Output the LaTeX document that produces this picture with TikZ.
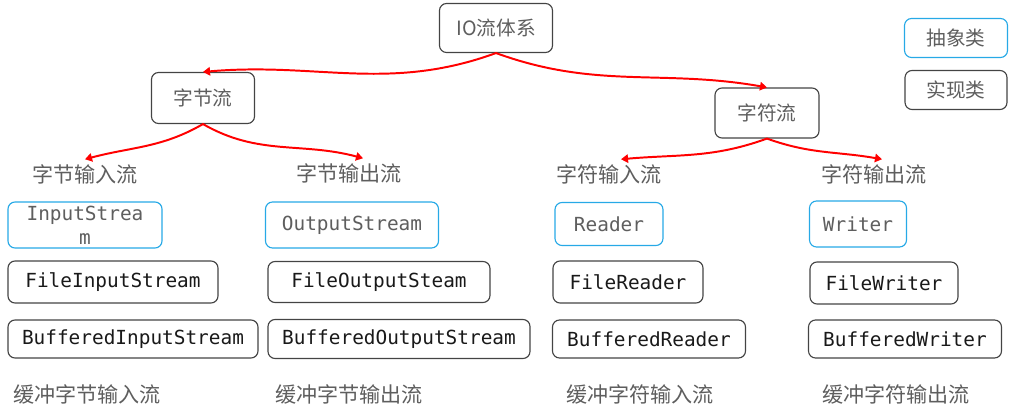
\documentclass[tikz,border=0pt]{standalone}
\usepackage{fontspec}
\setmainfont{Noto Sans CJK SC}
\setmonofont{DejaVu Sans Mono}
\usetikzlibrary{arrows.meta}

\definecolor{absblue}{HTML}{27A9E6}
\definecolor{boxgray}{HTML}{444444}
\definecolor{txtgray}{HTML}{5E5E5E}

\tikzset{
  box/.style={draw=boxgray, line width=0.8pt, rounded corners=5pt, align=center, inner sep=2pt},
  absbox/.style={box, draw=absblue},
  sz/.style 2 args={minimum width=#1*0.025cm, minimum height=#2*0.025cm},
  cn/.style={text=txtgray, font=\fontsize{14}{16}\selectfont},
  code/.style={font=\ttfamily\fontsize{13.8}{17}\selectfont},
  flow/.style={draw=red, line width=1.4pt, -{Triangle[length=5pt,width=6pt]}},
}

\begin{document}
\begin{tikzpicture}[x=0.025cm, y=-0.025cm, line cap=round, line join=round]
\useasboundingbox (0,0) rectangle (1016,411);

% top level
\node[box, sz={113}{49}, cn] (io) at (496,28) {IO流体系};
\node[box, sz={103}{51}, cn] (bytes) at (203,98) {字节流};
\node[box, sz={104}{50}, cn] (chars) at (767,113) {字符流};

% legend
\node[absbox, sz={103}{39}, cn] (legabs) at (956,38) {抽象类};
\node[box, sz={102}{39}, cn] (legimpl) at (956,90) {实现类};

% group titles
\node[cn, font=\fontsize{15}{17}\selectfont] (bin) at (85,174) {字节输入流};
\node[cn, font=\fontsize{15}{17}\selectfont] (bout) at (349,173) {字节输出流};
\node[cn, font=\fontsize{15}{17}\selectfont] (cin) at (609,174) {字符输入流};
\node[cn, font=\fontsize{15}{17}\selectfont] (cout) at (874,174) {字符输出流};

% abstract classes
\node[absbox, sz={154}{46}, code, text=txtgray, inner sep=0pt, text width=140*0.025cm] (instream) at (85,225) {InputStrea\\m};
\node[absbox, sz={173}{46}, code, text=txtgray] (outstream) at (352,225) {OutputStream};
\node[absbox, sz={108}{43}, code, text=txtgray] (reader) at (609,224) {Reader};
\node[absbox, sz={97}{46}, code, text=txtgray] (writer) at (858,224) {Writer};

% implementations
\node[box, sz={210}{42}, code, text=black!90] (fis) at (113,282) {FileInputStream};
\node[box, sz={222}{41}, code, text=black!90] (fos) at (379,282) {FileOutputSteam};
\node[box, sz={150}{42}, code, text=black!90] (fr) at (628,282) {FileReader};
\node[box, sz={148}{42}, code, text=black!90] (fw) at (884,283) {FileWriter};

\node[box, sz={250}{38}, code, text=black!90] (bis) at (133,339) {BufferedInputStream};
\node[box, sz={262}{39}, code, text=black!90] (bos) at (399,339) {BufferedOutputStream};
\node[box, sz={193}{38}, code, text=black!90] (br) at (649,339) {BufferedReader};
\node[box, sz={193}{38}, code, text=black!90] (bw) at (905,339) {BufferedWriter};

% buffered captions
\node[cn, font=\fontsize{15}{17}\selectfont] (bbin) at (87,394) {缓冲字节输入流};
\node[cn, font=\fontsize{15}{17}\selectfont] (bbout) at (349,394) {缓冲字节输出流};
\node[cn, font=\fontsize{15}{17}\selectfont] (bcin) at (640,394) {缓冲字符输入流};
\node[cn, font=\fontsize{15}{17}\selectfont] (bcout) at (896,394) {缓冲字符输出流};

% red arrows
\draw[flow] (io.south) to[out=200, in=5] (bytes.north);
\draw[flow] (io.south) to[out=-20, in=170] (chars.north);
\draw[flow] (bytes.south) to[out=210, in=15] (bin.north);
\draw[flow] (bytes.south) to[out=-30, in=165] ([xshift=14*0.025cm]bout.north);
\draw[flow] (chars.south) to[out=200, in=5] ([xshift=12*0.025cm]cin.north);
\draw[flow] (chars.south) to[out=-20, in=170] ([xshift=8*0.025cm]cout.north);

\end{tikzpicture}
\end{document}
